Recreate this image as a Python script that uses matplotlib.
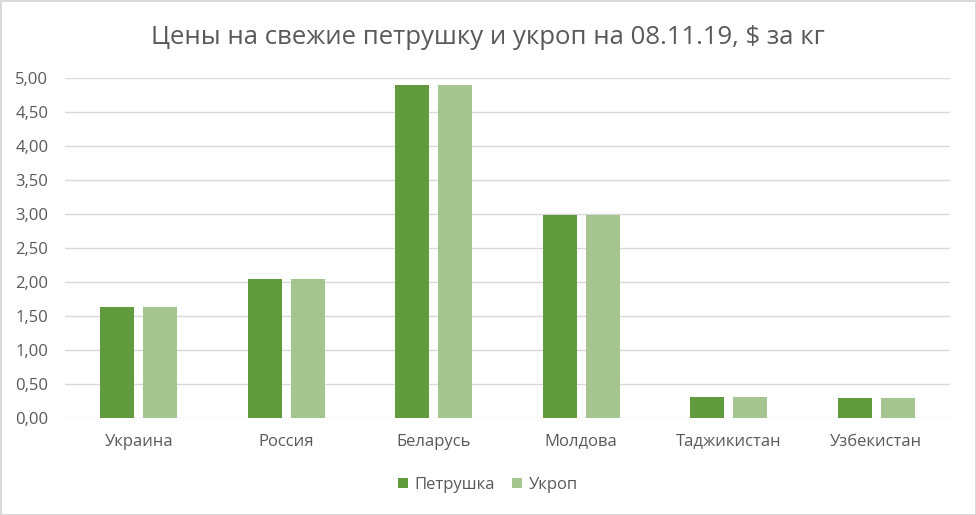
import matplotlib.pyplot as plt
import numpy as np

countries = ['Украина', 'Россия', 'Беларусь', 'Молдова', 'Таджикистан', 'Узбекистан']
parsley = [1.64, 2.05, 4.90, 2.99, 0.31, 0.30]
dill = [1.64, 2.05, 4.90, 2.99, 0.31, 0.30]

plt.rcParams['font.family'] = ['Open Sans', 'DejaVu Sans']
text_color = '#595959'

fig = plt.figure(figsize=(9.76, 5.15), dpi=100)
fig.patch.set_edgecolor('#d9d9d9')
fig.patch.set_linewidth(2)
ax = fig.add_axes([65 / 976, 1 - 418.3 / 515, 885 / 976, 340 / 515])

x = np.arange(len(countries))
w = 0.23
gap = 0.06
ax.bar(x - (w + gap) / 2, parsley, width=w, color='#629a3e', label='Петрушка', zorder=3)
ax.bar(x + (w + gap) / 2, dill, width=w, color='#a4c490', label='Укроп', zorder=3)

ax.set_xlim(-0.5, len(countries) - 0.5)
ax.set_ylim(0, 5)
ax.set_yticks(np.arange(0, 5.01, 0.5))
ax.set_yticklabels([f'{v:.2f}'.replace('.', ',') for v in np.arange(0, 5.01, 0.5)])
ax.set_xticks(x)
ax.set_xticklabels(countries)
ax.tick_params(axis='both', length=0, labelsize=12, colors=text_color)
ax.tick_params(axis='x', pad=11)
ax.tick_params(axis='y', pad=12)
ax.grid(axis='y', color='#d9d9d9', linewidth=1, zorder=0)
for s in ax.spines.values():
    s.set_visible(False)

fig.text(0.5, 1 - 38 / 515, 'Цены на свежие петрушку и укроп на 08.11.19, $ за кг',
         ha='center', va='center', fontsize=18.5, color=text_color)
fig.legend(loc='center', bbox_to_anchor=(0.5, 1 - 485 / 515), ncol=2, frameon=False,
           fontsize=12, labelcolor=text_color, handlelength=0.6, handleheight=0.6,
           handletextpad=0.4, columnspacing=1.0)

fig.savefig('out.png', dpi=100)
